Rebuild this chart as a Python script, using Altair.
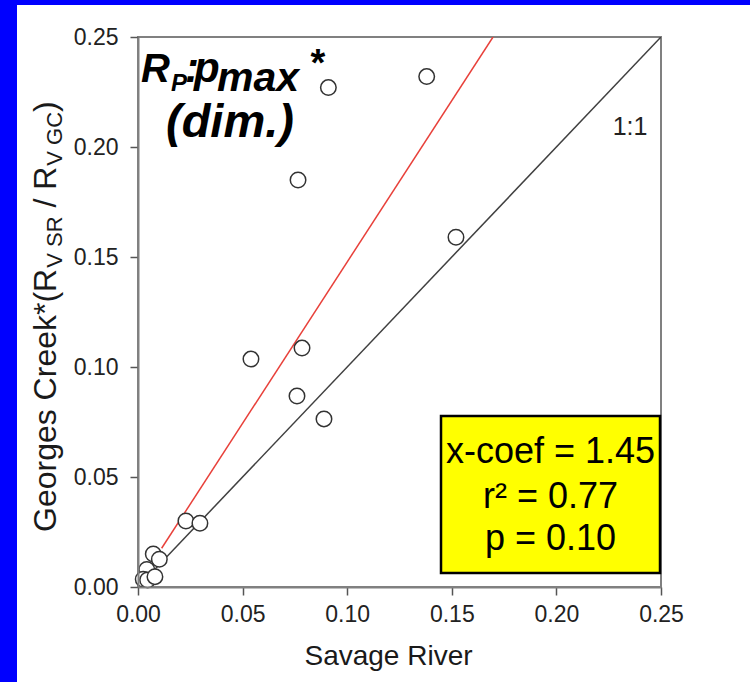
import altair as alt
import pandas as pd

# ---------------- data ----------------
savage = [0.091, 0.138, 0.0765, 0.152, 0.054, 0.0784, 0.076, 0.0889,
          0.0229, 0.0296, 0.0073, 0.0102, 0.0042, 0.0025, 0.0046, 0.0081]
georges = [0.227, 0.232, 0.185, 0.159, 0.1036, 0.1086, 0.0868, 0.0764,
           0.030, 0.029, 0.015, 0.0126, 0.008, 0.0035, 0.0032, 0.0047]
one_x = [0.0, 0.25]
one_y = [0.0, 0.25]
fit_x = [0.0113, 0.1697]
fit_y = [0.0176, 0.25]
tick_values = [0.0, 0.05, 0.10, 0.15, 0.20, 0.25]
stats_lines = ["x-coef = 1.45", "r\u00b2 = 0.77", "p = 0.10"]
one_label = "1:1"
x_title = "Savage River"

# ---------------- layout (canvas px) ----------------
W, H = 750, 682
L, T = 138, 37
PW, PH = 523, 550
FONT = "Liberation Sans, Arial, sans-serif"

pts = pd.DataFrame({"x": savage, "y": georges})
one = pd.DataFrame({"x": one_x, "y": one_y})
fit = pd.DataFrame({"x": fit_x, "y": fit_y})
dummy = pd.DataFrame({"a": [0]})

xs = alt.Scale(domain=[0, 0.25], nice=False, zero=False, padding=0)
ys = alt.Scale(domain=[0, 0.25], nice=False, zero=False, padding=0)

xaxis = alt.Axis(values=tick_values, format=".2f", title=x_title, grid=False,
                 labelFlush=False, labelOverlap=False,
                 titleFontSize=28, titleFont=FONT, titleFontWeight="normal",
                 titleColor="#1a1a1a", titlePadding=16, titleX=250,
                 titleAlign="center", zindex=1)
yaxis = alt.Axis(values=tick_values, format=".2f", title=None, grid=False,
                 labelFlush=False, labelOverlap=False,
                 labelPadding=12, zindex=1)


def px(v):
    return alt.value(v - L)


def py(v):
    return alt.value(v - T)


layers = []

# blue frame strips (outside plot)
layers.append(alt.Chart(dummy).mark_rect(color="#0000FF").encode(
    x=px(0), x2=px(17), y=py(0), y2=py(H)))
layers.append(alt.Chart(dummy).mark_rect(color="#0000FF").encode(
    x=px(0), x2=px(W), y=py(0), y2=py(5)))

# lines
layers.append(alt.Chart(one).mark_line(color="#404040", strokeWidth=1.5, clip=True).encode(
    x=alt.X("x:Q", scale=xs, axis=xaxis), y=alt.Y("y:Q", scale=ys, axis=yaxis)))
layers.append(alt.Chart(fit).mark_line(color="#e8403a", strokeWidth=1.5, clip=True).encode(
    x=alt.X("x:Q", scale=xs), y=alt.Y("y:Q", scale=ys)))

# points
layers.append(alt.Chart(pts).mark_point(shape="circle", filled=True, fill="white",
                                         stroke="#333333", strokeWidth=1.5, size=240,
                                         opacity=1).encode(
    x=alt.X("x:Q", scale=xs), y=alt.Y("y:Q", scale=ys)))

# 1:1 label
layers.append(alt.Chart(dummy).mark_text(text=one_label, font=FONT, fontSize=25,
                                         color="#222222", align="center",
                                         baseline="alphabetic").encode(
    x=px(630), y=py(135)))

# stats box
layers.append(alt.Chart(dummy).mark_rect(fill="#FFFF00", stroke="#000000", strokeWidth=2.5).encode(
    x=px(441), x2=px(660), y=py(416), y2=py(573)))
for txt, yb in zip(stats_lines, [463, 508, 550]):
    layers.append(alt.Chart(dummy).mark_text(text=txt, font=FONT, fontSize=36,
                                             color="#000000", align="center",
                                             baseline="alphabetic").encode(
        x=px(550.5), y=py(yb)))

# R_P:p_max* (dim.) annotation
ann = [("R", 40, 141, 82), ("P", 24, 171, 91), (":", 42, 185, 82), ("p", 42, 194, 82),
       ("max", 41, 217, 91), ("*", 38, 309, 76), ("(dim.)", 47, 166, 137)]
for txt, fs, xx, yy in ann:
    layers.append(alt.Chart(dummy).mark_text(text=txt, font=FONT, fontSize=fs,
                                             fontWeight="bold", fontStyle="italic",
                                             color="#000000", align="left",
                                             baseline="alphabetic").encode(
        x=px(xx), y=py(yy)))

# rotated y-axis title with subscripts
AW = {"G": 778, "e": 556, "o": 556, "r": 333, "g": 556, "s": 500, " ": 278,
      "C": 722, "k": 500, "*": 389, "(": 333, "R": 722, "V": 667, "S": 667,
      "/": 278, ")": 333}


def tw(s, size):
    return sum(AW.get(c, 556) for c in s) / 1000.0 * size


F, S = 32, 22
# (text, font size, baseline shift, gap before)
pieces = [("Georges Creek*(R", F, 0, 0), ("V SR", S, 6, 1),
          ("/ R", F, 0, 0.278 * F), ("V GC", S, 6, 1), (")", F, 0, 0)]
cur = 532.0
base_x = 56
for txt, fs, dx, gap in pieces:
    cur -= gap
    layers.append(alt.Chart(dummy).mark_text(text=txt, font=FONT, fontSize=fs,
                                             color="#1a1a1a", angle=270, align="left",
                                             baseline="alphabetic").encode(
        x=px(base_x + dx), y=py(cur)))
    cur -= tw(txt, fs)

chart = alt.layer(*layers).properties(
    width=PW, height=PH,
    padding={"left": L, "top": T, "right": W - L - PW, "bottom": H - T - PH},
    autosize=alt.AutoSizeParams(type="none"),
    background="white",
).configure_view(
    stroke="#808080", strokeWidth=2
).configure_axis(
    labelFont=FONT, labelFontSize=23, labelColor="#222222",
    tickColor="#555555", tickSize=8, tickWidth=1.5,
    domainColor="#808080", domainWidth=2, labelPadding=8,
)

chart.save("out.html", embed_options={"renderer": "svg", "actions": False})
